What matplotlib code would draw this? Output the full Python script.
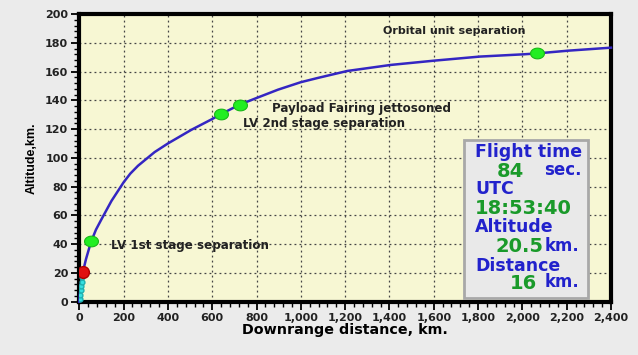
import matplotlib
matplotlib.use("Agg")
import matplotlib.pyplot as plt
import numpy as np
from matplotlib.path import Path
from matplotlib.patches import Rectangle
from matplotlib.ticker import MultipleLocator, FuncFormatter

# ---- data ----
traj_x = [0, 3, 8, 16, 30, 47, 54, 75, 99, 145, 200, 230, 265, 340, 400, 506, 600, 641, 724, 800,
          897, 1000, 1078, 1210, 1406, 1604, 1808, 2008, 2066, 2206, 2400]
traj_y = [0, 6, 13, 20.5, 29.5, 38.5, 42, 50, 57, 70, 83, 89, 94.5, 104, 110, 119.5, 127,
          130.5, 137, 141.6, 147.4, 152.6, 155.6, 160.4, 164.6, 167.6, 170.4, 172.0, 172.6, 174.5, 176.6]

event_x = [54, 641, 724, 2066]
event_y = [42, 130.5, 137, 172.6]

trail_x = [3, 5, 7, 9, 11, 13]
trail_y = [2, 5, 8, 11, 14, 17]

current_x = [16]
current_y = [20.5]

labels = ["LV 1st stage separation", "LV 2nd stage separation",
          "Payload Fairing jettosoned", "Orbital unit separation"]
label_x = [143, 738, 869, 1370]
label_y = [39.4, 123.6, 134, 188.2]
label_size = [8.6, 8.6, 8.6, 8.0]

flight_time = "84"
utc = "18:53:40"
altitude = "20.5"
distance = "16"

# ---- figure ----
W, H = 638, 355
fam = ["DejaVu Sans"]
fig = plt.figure(figsize=(W / 100, H / 100), dpi=100, facecolor="#ebebeb")
ax = fig.add_axes([79.3 / W, 1 - 301.7 / H, (611 - 79.3) / W, (301.7 - 14) / H])
ax.set_facecolor("#f7f7d3")

ax.set_xlim(0, 2400)
ax.set_ylim(0, 200)
ax.xaxis.set_major_locator(MultipleLocator(200))
ax.xaxis.set_minor_locator(MultipleLocator(40))
ax.yaxis.set_major_locator(MultipleLocator(20))
ax.yaxis.set_minor_locator(MultipleLocator(4))
ax.xaxis.set_major_formatter(FuncFormatter(lambda v, p: f"{int(v):,}"))

ax.grid(True, which="major", color="#444444", linestyle=(0, (1.5, 2.5)), linewidth=0.9)
ax.set_axisbelow(True)

for s in ax.spines.values():
    s.set_linewidth(3.0)
    s.set_color("black")

ax.tick_params(which="major", direction="out", length=6, width=1.3, colors="black",
               labelsize=8, pad=2)
ax.tick_params(which="minor", direction="out", length=3.5, width=1.0, colors="black")
for lab in ax.get_xticklabels() + ax.get_yticklabels():
    lab.set_fontweight("bold")
    lab.set_color("#222222")
    lab.set_family(fam)

ax.set_xlabel("Downrange distance, km.", fontsize=10.3, fontweight="bold", family=fam)
ax.xaxis.set_label_coords(0.5, -0.073)
ax.set_ylabel("Altitude,km.", fontsize=9, fontweight="bold",
              family=["Liberation Sans Narrow", "Liberation Sans", "DejaVu Sans"])
ax.yaxis.set_label_coords(-0.078, 0.5)

ax.plot(traj_x, traj_y, color="#3426c2", linewidth=1.8, zorder=3, clip_on=False,
        solid_joinstyle="round")

# elliptical marker
t = np.linspace(0, 2 * np.pi, 60)
ell = Path(np.column_stack([1.3 * np.cos(t), np.sin(t)]), closed=True)
ax.plot(event_x, event_y, linestyle="none", marker=ell, markersize=10,
        markerfacecolor="#22ee22", markeredgecolor="#18b818", markeredgewidth=0.8, zorder=4)
ax.plot(trail_x, trail_y, linestyle="none", marker="o", markersize=3.5,
        markerfacecolor="#35e0e0", markeredgecolor="#20b0b0", zorder=4)
ax.plot(current_x, current_y, linestyle="none", marker="o", markersize=8.5,
        markerfacecolor="#e01010", markeredgecolor="#b00000", zorder=4)

for txt, lx, ly, fs in zip(labels, label_x, label_y, label_size):
    ax.text(lx, ly, txt, fontsize=fs, fontweight="bold", color="#222222",
            ha="left", va="center", family=fam, zorder=5)

# info box
bx0, bx1 = (464 - 79.3) / 531.7, (588 - 79.3) / 531.7
by0, by1 = (301.7 - 298) / 287.7, (301.7 - 140) / 287.7
ax.add_patch(Rectangle((bx0, by0), bx1 - bx0, by1 - by0, transform=ax.transAxes,
                       facecolor="#e9e9e9", edgecolor="#a8a8a8", linewidth=2, zorder=6))

blue = "#2222cc"
green = "#1a9a2a"

def ftext(px, py, s, color, size, ha="left"):
    fig.text(px / W, 1 - py / H, s, color=color, fontsize=size, fontweight="bold",
             ha=ha, va="center", family=fam, zorder=7)

ftext(475, 152, "Flight time", blue, 12.5)
ftext(497, 171.5, flight_time, green, 14)
ftext(582, 170, "sec.", blue, 12, ha="right")
ftext(475, 189, "UTC", blue, 12.5)
ftext(475, 209, utc, green, 14)
ftext(475, 227, "Altitude", blue, 12.5)
ftext(496, 246.5, altitude, green, 14)
ftext(579, 246, "km.", blue, 12, ha="right")
ftext(475, 266, "Distance", blue, 12.5)
ftext(510, 283.5, distance, green, 14)
ftext(579, 282, "km.", blue, 12, ha="right")

fig.savefig("out.png", dpi=100, facecolor=fig.get_facecolor())
